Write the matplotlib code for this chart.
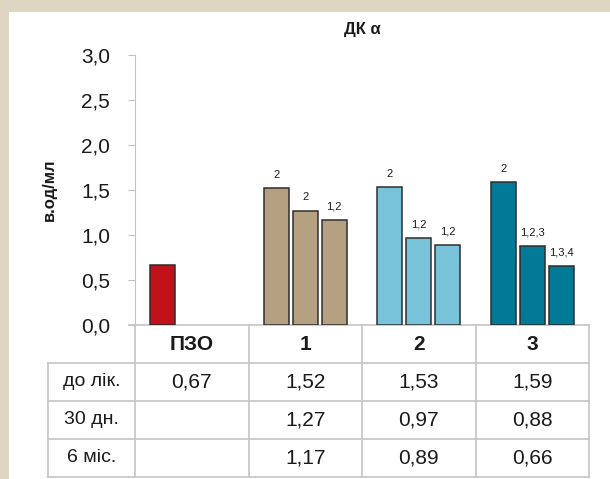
import matplotlib.pyplot as plt
from matplotlib.patches import Rectangle
from matplotlib.lines import Line2D
from matplotlib.ticker import FuncFormatter
from matplotlib import font_manager

names = {f.name for f in font_manager.fontManager.ttflist}
family = [f for f in ['Liberation Sans Narrow', 'Liberation Sans', 'DejaVu Sans'] if f in names]
plt.rcParams['font.family'] = family

categories = ['ПЗО', '1', '2', '3']
row_labels = ['до лік.', '30 дн.', '6 міс.']
before = [0.67, 1.52, 1.53, 1.59]
day30 = [None, 1.27, 0.97, 0.88]
month6 = [None, 1.17, 0.89, 0.66]
marks_before = ['', '2', '2', '2']
marks_day30 = ['', '2', '1,2', '1,2,3']
marks_month6 = ['', '1,2', '1,2', '1,3,4']
group_colors = ['#c1121c', '#b5a081', '#78c2da', '#007a96']

series = [before, day30, month6]
marks = [marks_before, marks_day30, marks_month6]

fig = plt.figure(figsize=(6.10, 4.79), dpi=100, facecolor='#ded6c3')
fig.patches.append(Rectangle((9 / 610, 0), 1, (479 - 12) / 479,
                             transform=fig.transFigure, facecolor='white',
                             edgecolor='none', zorder=-1))

ax = fig.add_axes([135 / 610, (479 - 325) / 479, 454 / 610, 270 / 479])
ax.set_facecolor('white')

grid = '#c4c4c4'
txt = '#1a1a1a'
width = 0.22
step = 0.256

for s, (vals, labs) in enumerate(zip(series, marks)):
    for i, v in enumerate(vals):
        if v is None:
            continue
        x = i + (s - 1) * step
        ax.bar(x, v, width=width, color=group_colors[i], edgecolor='#2e2e2e',
               linewidth=1.1, zorder=3)
        if labs[i]:
            ax.annotate(labs[i], (x, v), xytext=(0, 6), textcoords='offset points',
                        ha='center', va='bottom', fontsize=8, color=txt)

ax.set_xlim(-0.5, 3.5)
ax.set_ylim(0, 3)
ax.set_yticks([0, 0.5, 1.0, 1.5, 2.0, 2.5, 3.0])
ax.yaxis.set_major_formatter(FuncFormatter(lambda v, p: f'{v:.1f}'.replace('.', ',')))
ax.tick_params(axis='y', length=5, color=grid, labelsize=15, labelcolor=txt, pad=13)
ax.set_xticks([])
for side in ['top', 'right', 'bottom']:
    ax.spines[side].set_visible(False)
ax.spines['left'].set_color(grid)

ax.set_title('ДК α', fontsize=12, fontweight='bold', color=txt, pad=15)
ax.set_ylabel('в.од/мл', fontsize=12, fontweight='bold', color=txt, labelpad=17)

# table under the bars: x in data units, y in axes fraction
tr = ax.get_xaxis_transform()
row_h = 38 / 270
left = -1.27
n_rows = len(row_labels) + 1
bottom = -n_rows * row_h


def hline(x0, x1, y):
    ax.add_line(Line2D([x0, x1], [y, y], transform=tr, color=grid, lw=1.2, clip_on=False))


def vline(x, y0, y1):
    ax.add_line(Line2D([x, x], [y0, y1], transform=tr, color=grid, lw=1.2, clip_on=False))


hline(-0.55, 3.5, 0)
for r in range(1, n_rows + 1):
    hline(left, 3.5, -r * row_h)
for b in [-0.5, 0.5, 1.5, 2.5, 3.5]:
    vline(b, 0, bottom)
vline(left, -row_h, bottom)

for i, c in enumerate(categories):
    ax.text(i, -0.5 * row_h, c, transform=tr, ha='center', va='center',
            fontsize=15, fontweight='bold', color=txt)

for r, (lab, vals) in enumerate(zip(row_labels, series)):
    y = -(r + 1.5) * row_h
    ax.text((left - 0.5) / 2, y, lab, transform=tr, ha='center', va='center',
            fontsize=14, color=txt)
    for i, v in enumerate(vals):
        if v is None:
            continue
        ax.text(i, y, f'{v:.2f}'.replace('.', ','), transform=tr, ha='center',
                va='center', fontsize=15, color=txt)

fig.savefig('out.png', dpi=100, facecolor=fig.get_facecolor())
